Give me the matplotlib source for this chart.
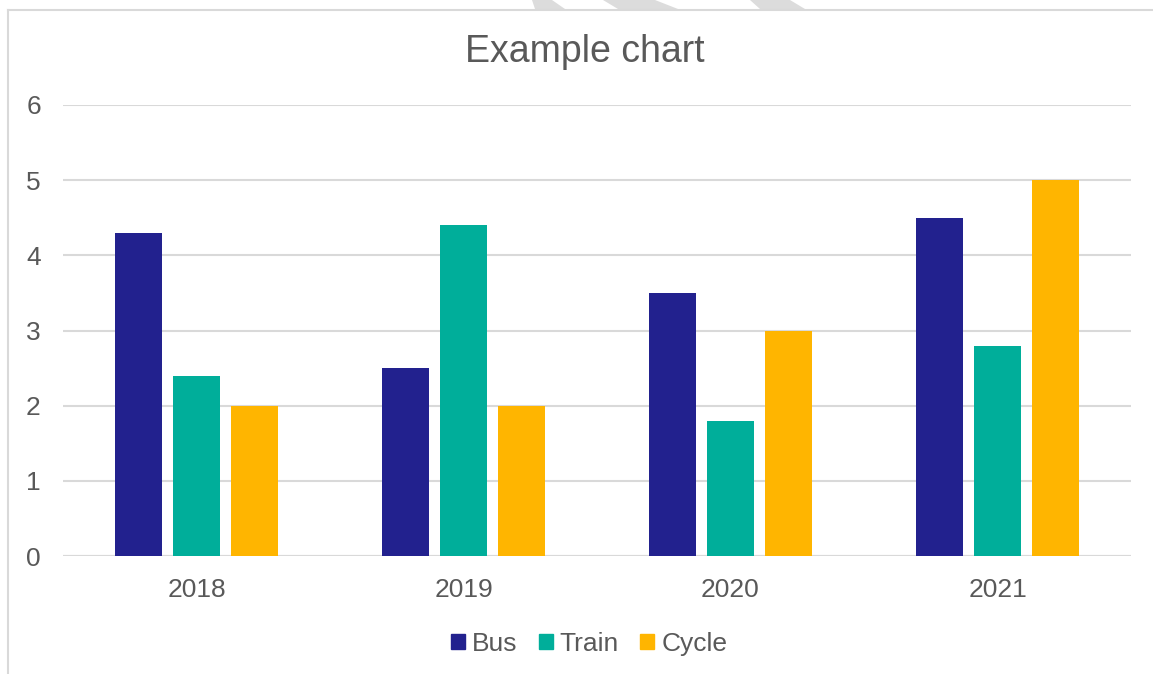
import matplotlib
matplotlib.use('Agg')
import matplotlib.pyplot as plt
import numpy as np
from matplotlib.lines import Line2D
from matplotlib.patches import Polygon

plt.rcParams['font.family'] = ['Liberation Sans', 'DejaVu Sans']

# The data
years = ['2018', '2019', '2020', '2021']
bus = [4.3, 2.5, 3.5, 4.5]
train = [2.4, 4.4, 1.8, 2.8]
cycle = [2.0, 2.0, 3.0, 5.0]
series_names = ['Bus', 'Train', 'Cycle']
colours = ['#22218E', '#00AE9A', '#FFB500']
yticks = [0, 1, 2, 3, 4, 5, 6]

W, H = 1153, 674
fig = plt.figure(figsize=(W / 100, H / 100), dpi=100)
ax = fig.add_axes([63 / W, 1 - 556 / H, (1131 - 63) / W, (556 - 105) / H])

text_grey = '#595959'
grid_grey = '#D9D9D9'

x = np.arange(len(years))
width = 0.176
step = 0.219
for i, (vals, name, col) in enumerate(zip([bus, train, cycle], series_names, colours)):
    ax.bar(x + (i - 1) * step, vals, width, color=col, label=name, zorder=3)

ax.set_xlim(-0.5, len(years) - 0.5)
ax.set_ylim(0, 6)
ax.set_yticks(yticks)
ax.set_xticks(x)
ax.set_xticklabels(years)
ax.grid(axis='y', color=grid_grey, linewidth=1.5, zorder=0)
for s in ax.spines.values():
    s.set_visible(False)
ax.axhline(0, color=grid_grey, linewidth=1.5, zorder=2)
ax.tick_params(axis='both', length=0, labelsize=19, labelcolor=text_grey)
ax.tick_params(axis='y', pad=16)
ax.tick_params(axis='x', pad=16)

fig.text(585 / W, 1 - 52 / H, 'Example chart', ha='center', va='center',
         fontsize=27, color=text_grey)

handles = [plt.Rectangle((0, 0), 1, 1, color=c) for c in colours]
fig.legend(handles, series_names, loc='center', bbox_to_anchor=(589 / W, 1 - 644 / H),
           ncol=3, frameon=False, fontsize=19, labelcolor=text_grey,
           handlelength=0.53, handleheight=0.53, handletextpad=0.27, columnspacing=0.8)

# chart frame (top and left edges only show)
fig.add_artist(Line2D([8 / W, 8 / W], [0, 1 - 9.5 / H], transform=fig.transFigure,
                      color=grid_grey, linewidth=1.5))
fig.add_artist(Line2D([8 / W, 1], [1 - 9.5 / H, 1 - 9.5 / H], transform=fig.transFigure,
                      color=grid_grey, linewidth=1.5))

# faint stripes poking above the frame
for top, bot in [((532, 552), (535, 565)), ((603, 655), (618, 678)), ((750, 790), (760, 805))]:
    pts = [(top[0], 0), (top[1], 0), (bot[1], 9), (bot[0], 9)]
    fig.add_artist(Polygon([(px / W, 1 - py / H) for px, py in pts], closed=True,
                           transform=fig.transFigure, facecolor='#DCDCDC', edgecolor='none'))

fig.savefig('out.png', dpi=100)
